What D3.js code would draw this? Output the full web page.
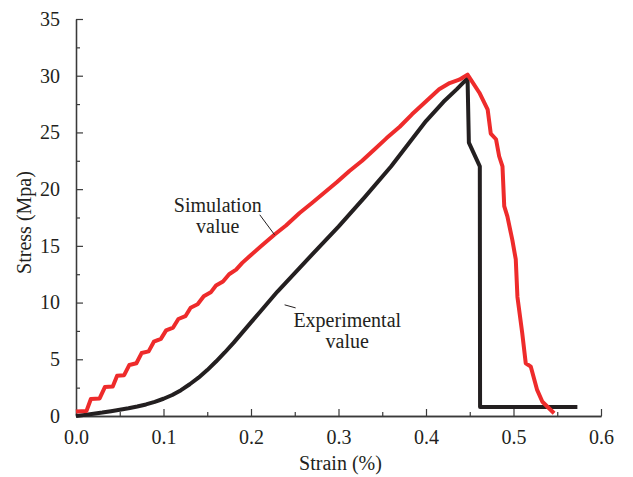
<!DOCTYPE html>
<html>
<head>
<meta charset="utf-8">
<script src="https://cdn.jsdelivr.net/npm/d3@7"></script>
<style>
  body { margin: 0; background: #fff; }
  svg text { font-family: 'Liberation Serif', 'Times New Roman', 'DejaVu Serif', serif !important; fill: #231f20; }
</style>
</head>
<body>
<div id="chart"></div>
<script>
// Simulation value (red): strain (%), stress (MPa)
const simStrain = [0, 0.012, 0.017, 0.027, 0.033, 0.042, 0.047, 0.055, 0.061, 0.069, 0.075, 0.083, 0.089, 0.097,
  0.103, 0.111, 0.117, 0.125, 0.131, 0.139, 0.146, 0.154, 0.16, 0.168, 0.175, 0.183, 0.19, 0.2,
  0.212, 0.227, 0.24, 0.2555, 0.27, 0.284, 0.298, 0.3125, 0.327, 0.341, 0.355, 0.37, 0.384, 0.398, 0.415, 0.427, 0.438, 0.4475,
  0.461, 0.4705, 0.474, 0.48, 0.4836, 0.4874, 0.4894, 0.493, 0.4987, 0.5026, 0.5045, 0.51, 0.514, 0.5198, 0.527, 0.533, 0.5464]
const simStress = [0.4, 0.45, 1.5, 1.55, 2.55, 2.6, 3.55, 3.6, 4.5, 4.65, 5.55, 5.7, 6.55, 6.8,
  7.55, 7.8, 8.55, 8.8, 9.55, 9.85, 10.55, 10.9, 11.5, 11.85, 12.5, 12.9, 13.5, 14.2,
  15.0, 16.0, 16.8, 17.9, 18.8, 19.7, 20.6, 21.6, 22.5, 23.5, 24.5, 25.5, 26.6, 27.6, 28.8, 29.35, 29.65, 30.1,
  28.5, 27.0, 24.9, 24.4, 22.9, 22.0, 18.5, 17.6, 15.5, 13.8, 10.5, 7.3, 4.65, 4.35, 2.3, 1.26, 0.24]

// Experimental value (black)
const expStrain = [0, 0.01, 0.02, 0.03, 0.04, 0.05, 0.06, 0.07, 0.08, 0.09, 0.1, 0.11, 0.12, 0.13, 0.14, 0.15,
  0.16, 0.17, 0.18, 0.19, 0.2, 0.21, 0.22, 0.23, 0.25, 0.27, 0.3, 0.33, 0.36,
  0.38, 0.4, 0.42, 0.435, 0.4465, 0.4475, 0.449, 0.4615, 0.4618, 0.573]
const expStress = [0, 0.1, 0.2, 0.3, 0.42, 0.55, 0.68, 0.84, 1.02, 1.25, 1.52, 1.85, 2.28, 2.8, 3.38, 4.05,
  4.8, 5.6, 6.45, 7.35, 8.25, 9.15, 10.05, 10.95, 12.6, 14.25, 16.7, 19.3, 22.0,
  24.0, 26.0, 27.7, 28.8, 29.7, 29.7, 24.1, 22.0, 0.8, 0.8]

const xTicks = [0, 0.1, 0.2, 0.3, 0.4, 0.5, 0.6]
const yTicks = [0, 5, 10, 15, 20, 25, 30, 35]
const xMinor = [0.05, 0.15, 0.25, 0.35, 0.45, 0.55]
const yMinor = [2.5, 7.5, 12.5, 17.5, 22.5, 27.5, 32.5]

const simLabel = ['Simulation', 'value']
const expLabel = ['Experimental', 'value']

const width = 525
const height = 397
const margin = {left: 76, right: 32, top: 19, bottom: 61}
const serif = "'Liberation Serif', 'Times New Roman', 'DejaVu Serif', serif"

const svg = d3.select('#chart')
  .append('svg')
  .attr('width', 633)
  .attr('height', 477)

const g = svg.append('g')
  .attr('transform', `translate(${margin.left},${margin.top})`)

const xScale = d3.scaleLinear().domain([0, 0.6]).range([0, width])
const yScale = d3.scaleLinear().domain([0, 35]).range([height, 0])

// Axes with inward ticks
const bAxis = g.append('g').attr('transform', `translate(0,${height})`)
bAxis.call(d3.axisBottom(xScale).tickValues(xMinor).tickSize(-4).tickFormat('').tickSizeOuter(0))
bAxis.append('g').call(d3.axisBottom(xScale).tickValues(xTicks).tickSize(-7).tickSizeOuter(0)
  .tickFormat(d3.format('.1f')).tickPadding(10))

const lAxis = g.append('g')
lAxis.call(d3.axisLeft(yScale).tickValues(yMinor).tickSize(-4).tickFormat('').tickSizeOuter(0))
lAxis.append('g').call(d3.axisLeft(yScale).tickValues(yTicks).tickSize(-7).tickSizeOuter(0).tickPadding(16))

g.selectAll('g').attr('font-family', serif)
g.selectAll('.domain').style('stroke', '#3a3a3a').style('stroke-width', 1.3)
g.selectAll('.tick line').style('stroke', '#3a3a3a').style('stroke-width', 1.2)
g.selectAll('.tick text')
  .style('font-family', serif)
  .style('font-size', '20px')
  .style('fill', '#231f20')
bAxis.selectAll('.tick text').attr('dy', '0.9em')

// Axis titles
svg.append('text')
  .attr('transform', `translate(31,${margin.top + height / 2 + 5}) rotate(270)`)
  .style('text-anchor', 'middle')
  .style('font-family', serif)
  .style('font-size', '20px')
  .text('Stress (Mpa)')

svg.append('text')
  .attr('x', margin.left + width / 2 + 2)
  .attr('y', 470)
  .style('text-anchor', 'middle')
  .style('font-family', serif)
  .style('font-size', '20px')
  .text('Strain (%)')

// Lines
const linePath = d3.line()
  .x(d => xScale(d[0]))
  .y(d => yScale(d[1]))

const expData = expStrain.map((s, i) => [s, expStress[i]])
const simData = simStrain.map((s, i) => [s, simStress[i]])

g.append('path')
  .attr('d', linePath(expData))
  .style('fill', 'none')
  .style('stroke', '#231f20')
  .style('stroke-width', 4)
  .style('stroke-linejoin', 'round')

g.append('path')
  .attr('d', linePath(simData))
  .style('fill', 'none')
  .style('stroke', '#ee2b2b')
  .style('stroke-width', 4)
  .style('stroke-linejoin', 'round')

// Annotations
function label(lines, cx, by, lx1, ly1, lx2, ly2) {
  lines.forEach((t, i) => {
    g.append('text')
      .attr('x', xScale(cx))
      .attr('y', yScale(by) + i * 21)
      .style('text-anchor', 'middle')
      .style('font-family', serif)
      .style('font-size', '20px')
      .text(t)
  })
  g.append('line')
    .attr('x1', xScale(lx1)).attr('y1', yScale(ly1))
    .attr('x2', xScale(lx2)).attr('y2', yScale(ly2))
    .style('stroke', '#231f20')
    .style('stroke-width', 1)
}
label(simLabel, 0.162, 18.0, 0.21, 17.74, 0.227, 15.97)
label(expLabel, 0.31, 7.88, 0.2384, 9.8, 0.251, 9.53)
</script>
</body>
</html>
